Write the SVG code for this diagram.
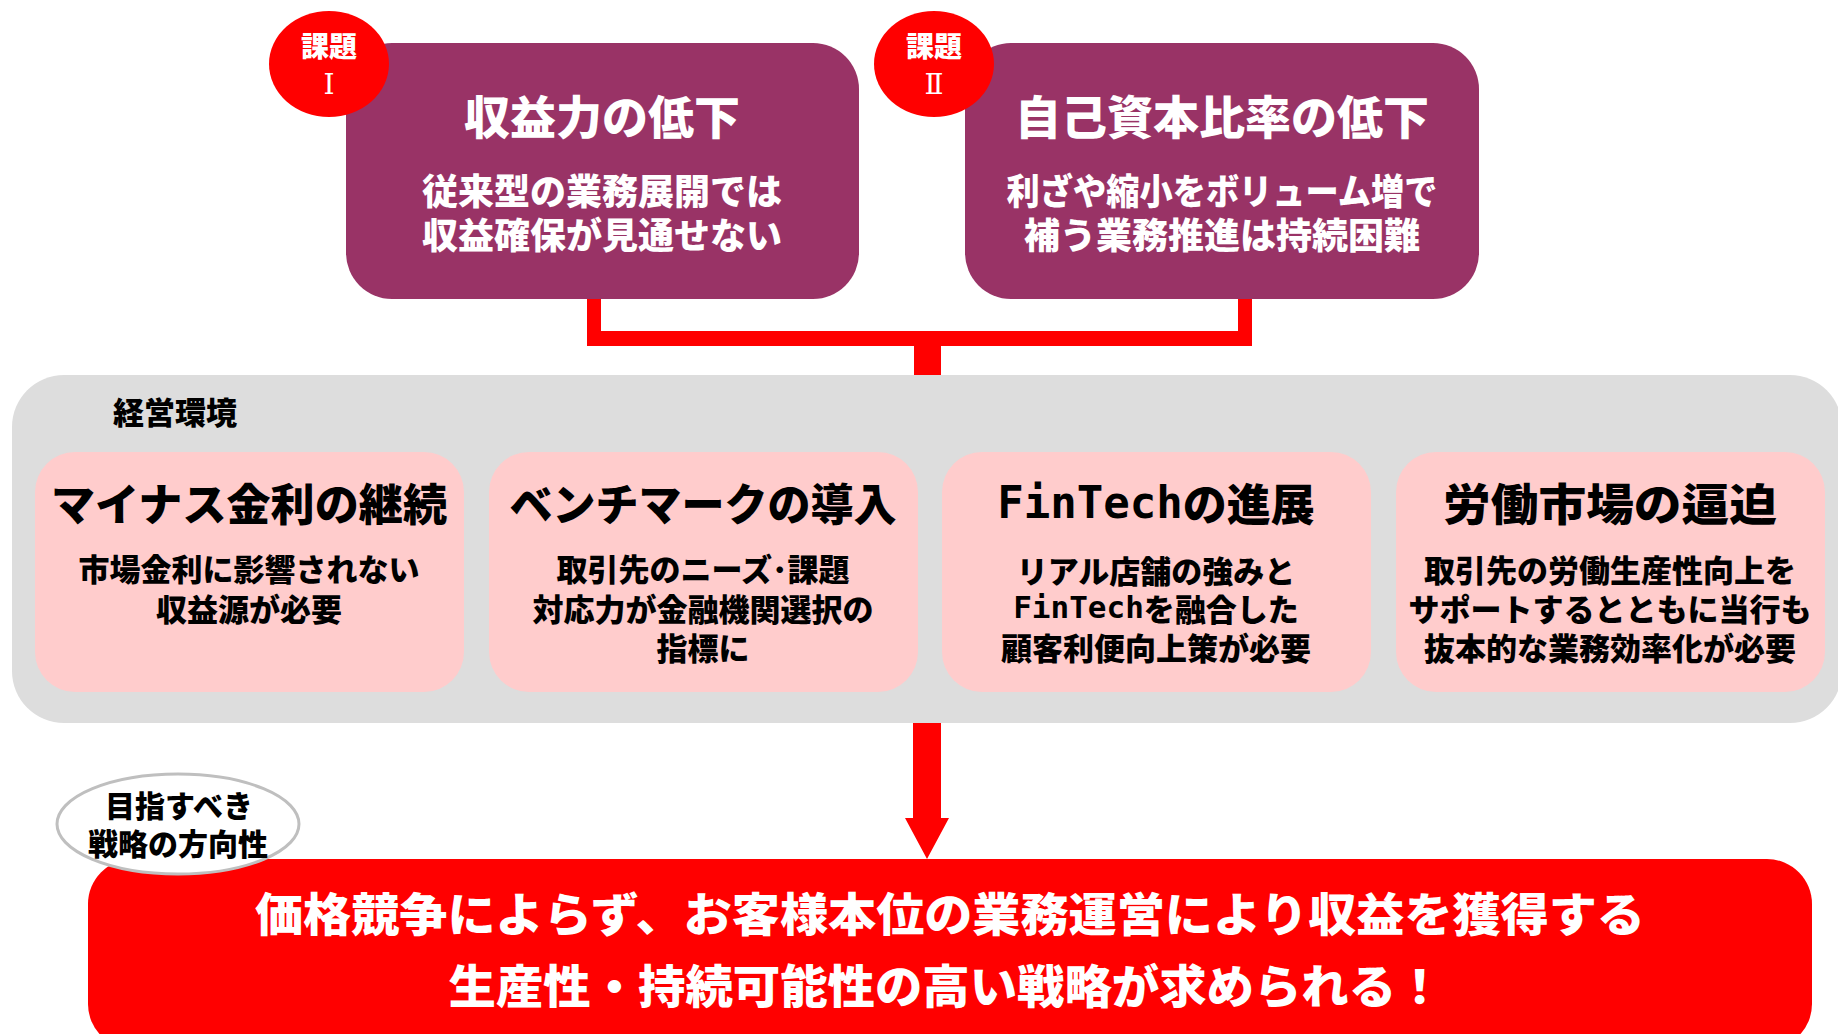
<svg xmlns="http://www.w3.org/2000/svg" width="1838" height="1034" viewBox="0 0 1838 1034">
<style>
  text { font-family: "Noto Sans CJK JP", "Noto Sans", sans-serif; font-weight: 900; text-anchor: middle; dominant-baseline: central; }
  .issue { fill: #993366; }
  .badge { fill: #FF0000; }
  .badge-t { fill: #FFFFFF; font-size: 28px; }
  .badge-n { fill: #FFFFFF; font-size: 28px; font-family: "DejaVu Serif", "Liberation Serif", serif; font-weight: 400; }
  .issue-title { fill: #FFFFFF; font-size: 46px; }
  .issue-sub { fill: #FFFFFF; font-size: 36px; }
  .env { fill: #FFCCCC; }
  .env-title { fill: #000000; font-size: 44px; }
  .env-sub { fill: #000000; font-size: 31px; }
  .mono { font-family: "DejaVu Sans Mono", "Liberation Mono", monospace; font-weight: 700; }
  .conn { fill: #FF0000; }
</style>

<g id="panel-env">
  <rect x="12" y="375" width="1830" height="348" rx="52" ry="52" fill="#DDDDDD"/>
  <text x="175" y="410" style="font-size:31px" fill="#000000">経営環境</text>
</g>

<g id="connectors">
  <rect class="conn" x="587" y="299" width="14" height="45"/>
  <rect class="conn" x="1238" y="299" width="14" height="45"/>
  <rect class="conn" x="587" y="331" width="665" height="15"/>
  <rect class="conn" x="914" y="331" width="27" height="44"/>
  <polygon class="conn" points="913,723 941,723 941,818 949,818 927,859 905,818 913,818"/>
</g>

<g id="issue1">
  <rect class="issue" x="346" y="43" width="513" height="256" rx="46" ry="46"/>
  <text class="issue-title" x="602" y="114">収益力の低下</text>
  <text class="issue-sub" x="602" y="189">従来型の業務展開では</text>
  <text class="issue-sub" x="602" y="233">収益確保が見通せない</text>
</g>
<g id="badge1">
  <ellipse class="badge" cx="329" cy="64" rx="60" ry="53"/>
  <text class="badge-t" x="329" y="45">課題</text>
  <text class="badge-n" x="329" y="84">Ⅰ</text>
</g>

<g id="issue2">
  <rect class="issue" x="965" y="43" width="514" height="256" rx="46" ry="46"/>
  <text class="issue-title" x="1222" y="114">自己資本比率の低下</text>
  <text class="issue-sub" x="1222" y="189" textLength="431" lengthAdjust="spacingAndGlyphs">利ざや縮小をボリューム増で</text>
  <text class="issue-sub" x="1222" y="233">補う業務推進は持続困難</text>
</g>
<g id="badge2">
  <ellipse class="badge" cx="934" cy="64" rx="60" ry="53"/>
  <text class="badge-t" x="934" y="45">課題</text>
  <text class="badge-n" x="934" y="84">Ⅱ</text>
</g>

<g id="env1">
  <rect class="env" x="35" y="452" width="429" height="240" rx="40" ry="40"/>
  <text class="env-title" x="249" y="502" textLength="396" lengthAdjust="spacingAndGlyphs">マイナス金利の継続</text>
  <text class="env-sub" x="249" y="567">市場金利に影響されない</text>
  <text class="env-sub" x="249" y="607">収益源が必要</text>
</g>

<g id="env2">
  <rect class="env" x="489" y="452" width="429" height="240" rx="40" ry="40"/>
  <text class="env-title" x="703" y="502" textLength="387" lengthAdjust="spacingAndGlyphs">ベンチマークの導入</text>
  <text class="env-sub" x="703" y="567">取引先のニーズ･課題</text>
  <text class="env-sub" x="703" y="607">対応力が金融機関選択の</text>
  <text class="env-sub" x="703" y="646">指標に</text>
</g>

<g id="env3">
  <rect class="env" x="942" y="452" width="429" height="240" rx="40" ry="40"/>
  <text class="env-title" x="1156" y="502"><tspan class="mono">FinTech</tspan>の進展</text>
  <text class="env-sub" x="1156" y="569">リアル店舗の強みと</text>
  <text class="env-sub" x="1156" y="607"><tspan class="mono">FinTech</tspan>を融合した</text>
  <text class="env-sub" x="1156" y="646">顧客利便向上策が必要</text>
</g>

<g id="env4">
  <rect class="env" x="1396" y="452" width="429" height="240" rx="40" ry="40"/>
  <text class="env-title" x="1610" y="502" textLength="334" lengthAdjust="spacingAndGlyphs">労働市場の逼迫</text>
  <text class="env-sub" x="1610" y="568">取引先の労働生産性向上を</text>
  <text class="env-sub" x="1610" y="607">サポートするとともに当行も</text>
  <text class="env-sub" x="1610" y="646">抜本的な業務効率化が必要</text>
</g>

<g id="strategy">
  <rect x="88" y="859" width="1724" height="190" rx="45" ry="45" fill="#FF0000"/>
  <text x="950" y="911" style="font-size:46px" fill="#FFFFFF" textLength="1390" lengthAdjust="spacingAndGlyphs">価格競争によらず、お客様本位の業務運営により収益を獲得する</text>
  <text x="946" y="983" style="font-size:46px" fill="#FFFFFF" textLength="995" lengthAdjust="spacingAndGlyphs">生産性・持続可能性の高い戦略が求められる！</text>
</g>

<g id="direction-label">
  <ellipse cx="178" cy="824" rx="121" ry="50" fill="#FFFFFF" stroke="#BFBFBF" stroke-width="3"/>
  <text x="179" y="804" style="font-size:30px" fill="#000000">目指すべき</text>
  <text x="178" y="842" style="font-size:30px" fill="#000000">戦略の方向性</text>
</g>
</svg>
